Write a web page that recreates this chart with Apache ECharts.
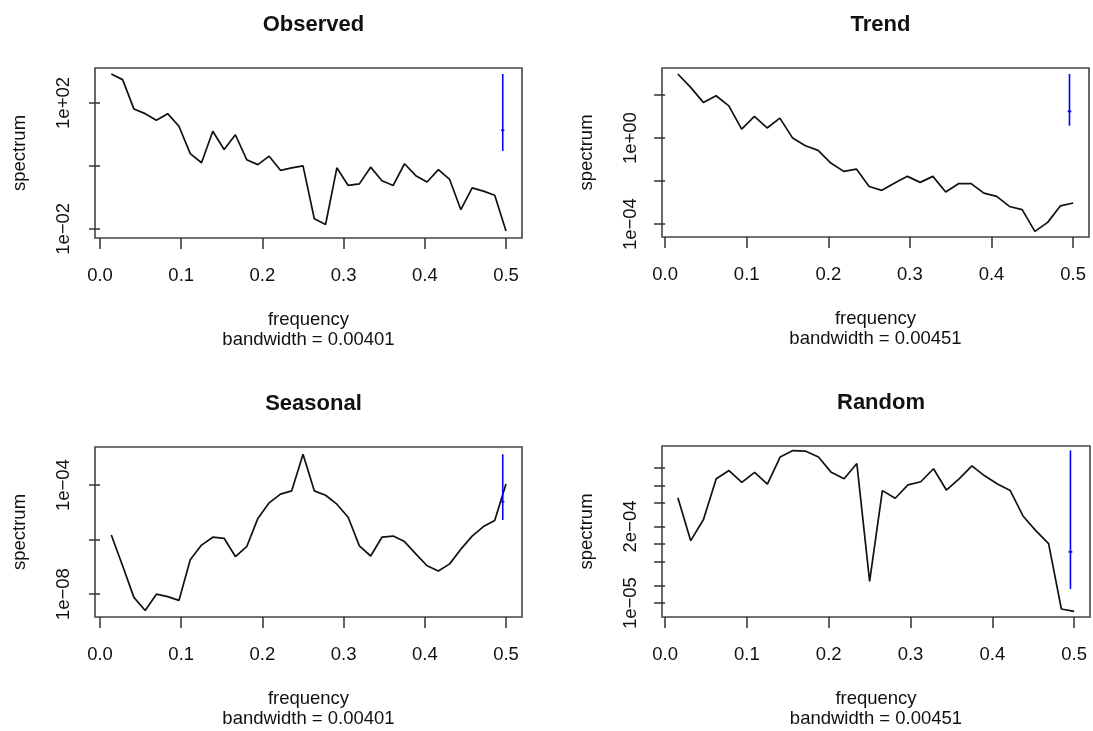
<!DOCTYPE html>
<html>
<head>
<meta charset="utf-8">
<script src="https://cdn.jsdelivr.net/npm/echarts@6/dist/echarts.min.js"></script>
<style>
html,body{margin:0;padding:0;background:#fff;}
#chart{width:1093px;height:731px;}
</style>
</head>
<body>
<div id="chart"></div>
<script>
// ---------- data ----------
const panelTitles = ['Observed', 'Trend', 'Seasonal', 'Random'];
const bandwidths = [0.00401, 0.00451, 0.00401, 0.00451];

const freq72 = [0.0139, 0.0278, 0.0417, 0.0556, 0.0694, 0.0833, 0.0972, 0.1111, 0.125, 0.1389,
  0.1528, 0.1667, 0.1806, 0.1944, 0.2083, 0.2222, 0.2361, 0.25, 0.2639, 0.2778,
  0.2917, 0.3056, 0.3194, 0.3333, 0.3472, 0.3611, 0.375, 0.3889, 0.4028, 0.4167,
  0.4306, 0.4444, 0.4583, 0.4722, 0.4861, 0.5];
const freq64 = [0.0156, 0.0313, 0.0469, 0.0625, 0.0781, 0.0938, 0.1094, 0.125, 0.1406, 0.1563,
  0.1719, 0.1875, 0.2031, 0.2188, 0.2344, 0.25, 0.2656, 0.2813, 0.2969, 0.3125,
  0.3281, 0.3438, 0.3594, 0.375, 0.3906, 0.4063, 0.4219, 0.4375, 0.4531, 0.4688,
  0.4844, 0.5];

const observedSpec = [832, 550, 64.6, 45.7, 28.2, 45.7, 18.2, 2.45, 1.26, 12.6,
  3.31, 9.77, 1.58, 1.10, 2.04, 0.724, 0.871, 1.00, 0.0209, 0.0138,
  0.871, 0.240, 0.269, 0.912, 0.339, 0.240, 1.17, 0.490, 0.309, 0.759,
  0.372, 0.0407, 0.200, 0.158, 0.117, 0.0085];
const trendSpec = [955, 229, 45.7, 93.3, 31.6, 2.63, 10.2, 2.95, 8.51, 1.00,
  0.437, 0.269, 0.0692, 0.0282, 0.0363, 0.00562, 0.00372, 0.00813, 0.0166, 0.00871,
  0.0166, 0.00309, 0.00759, 0.00759, 0.00275, 0.00195, 0.000661, 0.000468, 0.0000457, 0.000120,
  0.000708, 0.000955];
const seasonalSpec = [1.48e-6, 1.10e-7, 7.59e-9, 2.51e-9, 1.00e-8, 8.13e-9, 5.89e-9, 1.82e-7, 6.31e-7, 1.23e-6,
  1.12e-6, 2.40e-7, 5.50e-7, 6.03e-6, 2.24e-5, 4.68e-5, 6.17e-5, 1.35e-3, 6.17e-5, 4.27e-5,
  2.00e-5, 6.61e-6, 5.89e-7, 2.51e-7, 1.23e-6, 1.35e-6, 8.51e-7, 3.02e-7, 1.10e-7, 7.08e-8,
  1.29e-7, 4.47e-7, 1.35e-6, 3.02e-6, 5.01e-6, 1.10e-4];
const randomSpec = [6.17e-4, 1.15e-4, 2.63e-4, 1.29e-3, 1.78e-3, 1.12e-3, 1.66e-3, 1.05e-3, 3.02e-3, 3.89e-3,
  3.80e-3, 3.02e-3, 1.66e-3, 1.29e-3, 2.34e-3, 2.34e-5, 8.13e-4, 6.03e-4, 1.02e-3, 1.15e-3,
  1.91e-3, 8.32e-4, 1.29e-3, 2.14e-3, 1.45e-3, 1.05e-3, 8.13e-4, 3.02e-4, 1.70e-4, 1.02e-4,
  7.94e-6, 7.24e-6];

// confidence bars: [x, lower, centre, upper]
const ciObserved = [0.49599, 2.95, 13.5, 832];
const ciTrend = [0.49549, 3.72, 17.4, 955];
const ciSeasonal = [0.49599, 5.25e-6, 2.45e-5, 1.35e-3];
const ciRandom = [0.49549, 1.74e-5, 7.41e-5, 3.89e-3];

// axis ranges
const xRange72 = [-0.0062, 0.5197];
const xRange64 = [-0.0038, 0.5194];
const yRangeObserved = [5.13e-3, 1288];
const yRangeTrend = [2.51e-5, 1820];
const yRangeSeasonal = [1.45e-9, 2.51e-3];
const yRangeRandom = [5.81e-6, 4.65e-3];

// tick marks and labels
const xTicks = [0, 0.1, 0.2, 0.3, 0.4, 0.5];
const yTicksObserved = [1e-2, 1, 1e2];
const yLabelsObserved = [1e-2, 1e2];
const yTicksTrend = [1e-4, 1e-2, 1, 1e2];
const yLabelsTrend = [1e-4, 1];
const yTicksSeasonal = [1e-8, 1e-6, 1e-4];
const yLabelsSeasonal = [1e-8, 1e-4];
const yTicksRandom = [1e-5, 2e-5, 5e-5, 1e-4, 2e-4, 5e-4, 1e-3, 2e-3];
const yLabelsRandom = [1e-5, 2e-4];

// ---------- chart ----------
const FONT = 'Liberation Sans, Arial, Helvetica, sans-serif';
const TXT = '#111';
const FS = 18.5;
const grids = [
  {left: 95, top: 68, width: 427, height: 170},
  {left: 662, top: 68, width: 427, height: 169},
  {left: 95, top: 447, width: 427, height: 170},
  {left: 662, top: 446, width: 428, height: 171}
];
const freqs = [freq72, freq64, freq72, freq64];
const specs = [observedSpec, trendSpec, seasonalSpec, randomSpec];
const cis = [ciObserved, ciTrend, ciSeasonal, ciRandom];
const xRanges = [xRange72, xRange64, xRange72, xRange64];
const yRanges = [yRangeObserved, yRangeTrend, yRangeSeasonal, yRangeRandom];
const yTicks = [yTicksObserved, yTicksTrend, yTicksSeasonal, yTicksRandom];
const yLabels = [yLabelsObserved, yLabelsTrend, yLabelsSeasonal, yLabelsRandom];

function fmtE(v) {
  const e = Math.floor(Math.log10(v) + 1e-9);
  const m = Math.round(v / Math.pow(10, e));
  return m + 'e' + (e < 0 ? '\u2212' : '+') + String(Math.abs(e)).padStart(2, '0');
}
function fmtX(v) { return (Math.round(v * 10) / 10).toFixed(1); }

const option = {
  animation: false,
  backgroundColor: '#fff',
  textStyle: {fontFamily: FONT},
  title: panelTitles.map((t, i) => ({
    text: t,
    left: grids[i].left + grids[i].width / 2,
    top: grids[i].top - 59,
    textAlign: 'center',
    textStyle: {fontFamily: FONT, fontSize: 22, fontWeight: 'bold', color: TXT}
  })),
  grid: grids.map(g => Object.assign({show: true, borderColor: '#444', borderWidth: 1.6, backgroundColor: 'transparent', containLabel: false}, g)),
  xAxis: grids.map((g, i) => ({
    type: 'value', gridIndex: i,
    min: xRanges[i][0], max: xRanges[i][1],
    name: 'frequency\nbandwidth = ' + bandwidths[i].toFixed(5),
    nameLocation: 'middle', nameGap: 72,
    nameTextStyle: {fontFamily: FONT, fontSize: FS, color: TXT, lineHeight: 20, verticalAlign: 'top'},
    axisLine: {show: false},
    splitLine: {show: false},
    axisTick: {show: true, length: 11, lineStyle: {color: '#333', width: 1.5}, customValues: xTicks},
    axisLabel: {show: true, customValues: xTicks, formatter: fmtX, margin: 28, fontFamily: FONT, fontSize: FS, color: TXT}
  })),
  yAxis: grids.map((g, i) => ({
    type: 'log', gridIndex: i,
    min: yRanges[i][0], max: yRanges[i][1],
    name: 'spectrum', nameLocation: 'middle', nameGap: 66,
    nameTextStyle: {fontFamily: FONT, fontSize: FS, color: TXT},
    axisLine: {show: false},
    splitLine: {show: false},
    axisTick: {show: true, length: 11, lineStyle: {color: '#333', width: 1.5}, customValues: yTicks[i]},
    axisLabel: {show: true, customValues: yLabels[i], formatter: fmtE, rotate: 90, margin: 22, fontFamily: FONT, fontSize: FS, color: TXT}
  })),
  series: []
};

specs.forEach((s, i) => {
  option.series.push({
    type: 'line', xAxisIndex: i, yAxisIndex: i,
    data: freqs[i].map((f, k) => [f, s[k]]),
    symbol: 'none', lineStyle: {color: '#111', width: 1.7}, silent: true
  });
  const c = cis[i];
  option.series.push({
    type: 'line', xAxisIndex: i, yAxisIndex: i,
    data: [[c[0], c[1]], [c[0], c[3]]],
    symbol: 'none', lineStyle: {color: '#0000ff', width: 1.6}, silent: true
  });
  option.series.push({
    type: 'line', xAxisIndex: i, yAxisIndex: i,
    data: [[c[0] - bandwidths[i] / 2, c[2]], [c[0] + bandwidths[i] / 2, c[2]]],
    symbol: 'none', lineStyle: {color: '#0000ff', width: 1.6}, silent: true
  });
});

const chart = echarts.init(document.getElementById('chart'), null, {renderer: 'canvas'});
chart.setOption(option);
</script>
</body>
</html>
